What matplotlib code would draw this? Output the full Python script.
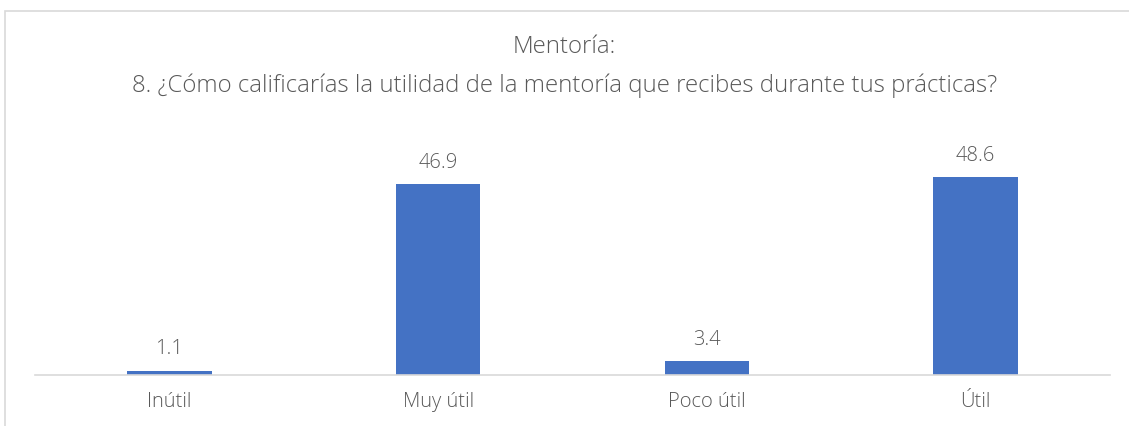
import matplotlib.pyplot as plt
from matplotlib.patches import Rectangle

plt.rcParams['font.family'] = ['Open Sans', 'DejaVu Sans']

categorias = ['Inútil', 'Muy útil', 'Poco útil', 'Útil']
porcentajes = [1.1, 46.9, 3.4, 48.6]

gris = '#595959'
azul = '#4472C4'

fig = plt.figure(figsize=(11.29, 4.26), dpi=100)
# marco del grafico
fig.patches.append(Rectangle((5/1129, -0.1), 1.2, 1.1 - 11/426,
                             transform=fig.transFigure, fill=False,
                             edgecolor='#d9d9d9', linewidth=1.2))

ax = fig.add_axes([35/1129, 51/426, 1075/1129, (375-130.5)/426])
x = range(len(categorias))
barras = ax.bar(x, porcentajes, width=0.315, color=azul)
ax.set_xlim(-0.5, len(categorias) - 0.5)
ax.set_ylim(0, 60)

for b, v in zip(barras, porcentajes):
    ax.annotate(f'{v}', (b.get_x() + b.get_width()/2, v), xytext=(0, 8),
                textcoords='offset points', ha='center', va='bottom',
                fontsize=14.5, color=gris, fontweight='light')

ax.set_xticks(list(x))
ax.set_xticklabels(categorias, fontsize=14.5, color=gris, fontweight='light')
ax.tick_params(axis='x', length=0, pad=12)
ax.set_yticks([])
for s in ['top', 'right', 'left']:
    ax.spines[s].set_visible(False)
ax.spines['bottom'].set_color('#d9d9d9')
ax.spines['bottom'].set_linewidth(1.2)

fig.text(0.5, 1 - 47/426, 'Mentoría:', ha='center', va='center',
         fontsize=17.3, color=gris, fontweight='light')
fig.text(0.5, 1 - 86/426,
         '8. ¿Cómo calificarías la utilidad de la mentoría que recibes durante tus prácticas?',
         ha='center', va='center', fontsize=17.3, color=gris, fontweight='light')

fig.savefig('out.png', dpi=100)
